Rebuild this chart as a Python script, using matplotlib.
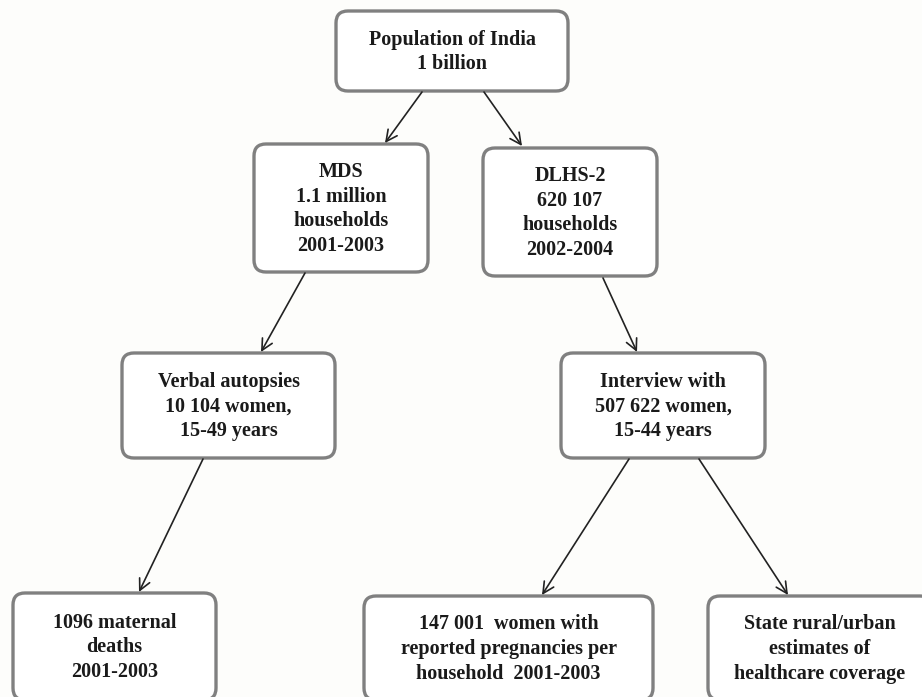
import matplotlib.pyplot as plt
from matplotlib.patches import FancyBboxPatch

# box texts
labels = [
    "Population of India\n1 billion",
    "MDS\n1.1 million\nhouseholds\n2001-2003",
    "DLHS-2\n620 107\nhouseholds\n2002-2004",
    "Verbal autopsies\n10 104 women,\n15-49 years",
    "Interview with\n507 622 women,\n15-44 years",
    "1096 maternal\ndeaths\n2001-2003",
    "147 001  women with\nreported pregnancies per\nhousehold  2001-2003",
    "State rural/urban\nestimates of\nhealthcare coverage",
]

# layout in pixels: left, top, right, bottom (y grows downwards)
box_left = [336, 254, 483, 122, 561, 13, 364, 708]
box_top = [11, 144, 148, 353, 353, 593, 596, 596]
box_right = [568, 428, 657, 335, 765, 216, 653, 932]
box_bottom = [91, 272, 276, 458, 458, 700, 700, 700]

# arrows: start and end points
arrow_start = [(422, 92), (484, 92), (305, 273), (603, 278), (203, 459), (629, 459), (699, 459)]
arrow_end = [(385, 143), (522, 146), (261, 352), (637, 352), (139, 592), (542, 595), (788, 595)]

fig = plt.figure(figsize=(9.22, 6.97), dpi=100)
fig.patch.set_facecolor("#fdfdfb")
ax = fig.add_axes([0, 0, 1, 1])
ax.set_xlim(0, 922)
ax.set_ylim(697, 0)
ax.axis("off")

for i, txt in enumerate(labels):
    w = box_right[i] - box_left[i]
    h = box_bottom[i] - box_top[i]
    ax.add_patch(FancyBboxPatch((box_left[i], box_top[i]), w, h,
                                boxstyle="round,pad=0,rounding_size=12",
                                fc="white", ec="#808080", lw=2.4))
    ax.text(box_left[i] + w / 2, box_top[i] + h / 2 + 1, txt,
            ha="center", va="center", fontsize=14.5, fontweight="bold",
            family="Liberation Serif", color="#1a1a1a", linespacing=1.32)

for s, e in zip(arrow_start, arrow_end):
    ax.annotate("", xy=e, xytext=s,
                arrowprops=dict(arrowstyle="->,head_length=0.8,head_width=0.4",
                                color="#222222", lw=1.2,
                                shrinkA=0, shrinkB=0))

plt.savefig("out.png", dpi=100, facecolor=fig.get_facecolor())
